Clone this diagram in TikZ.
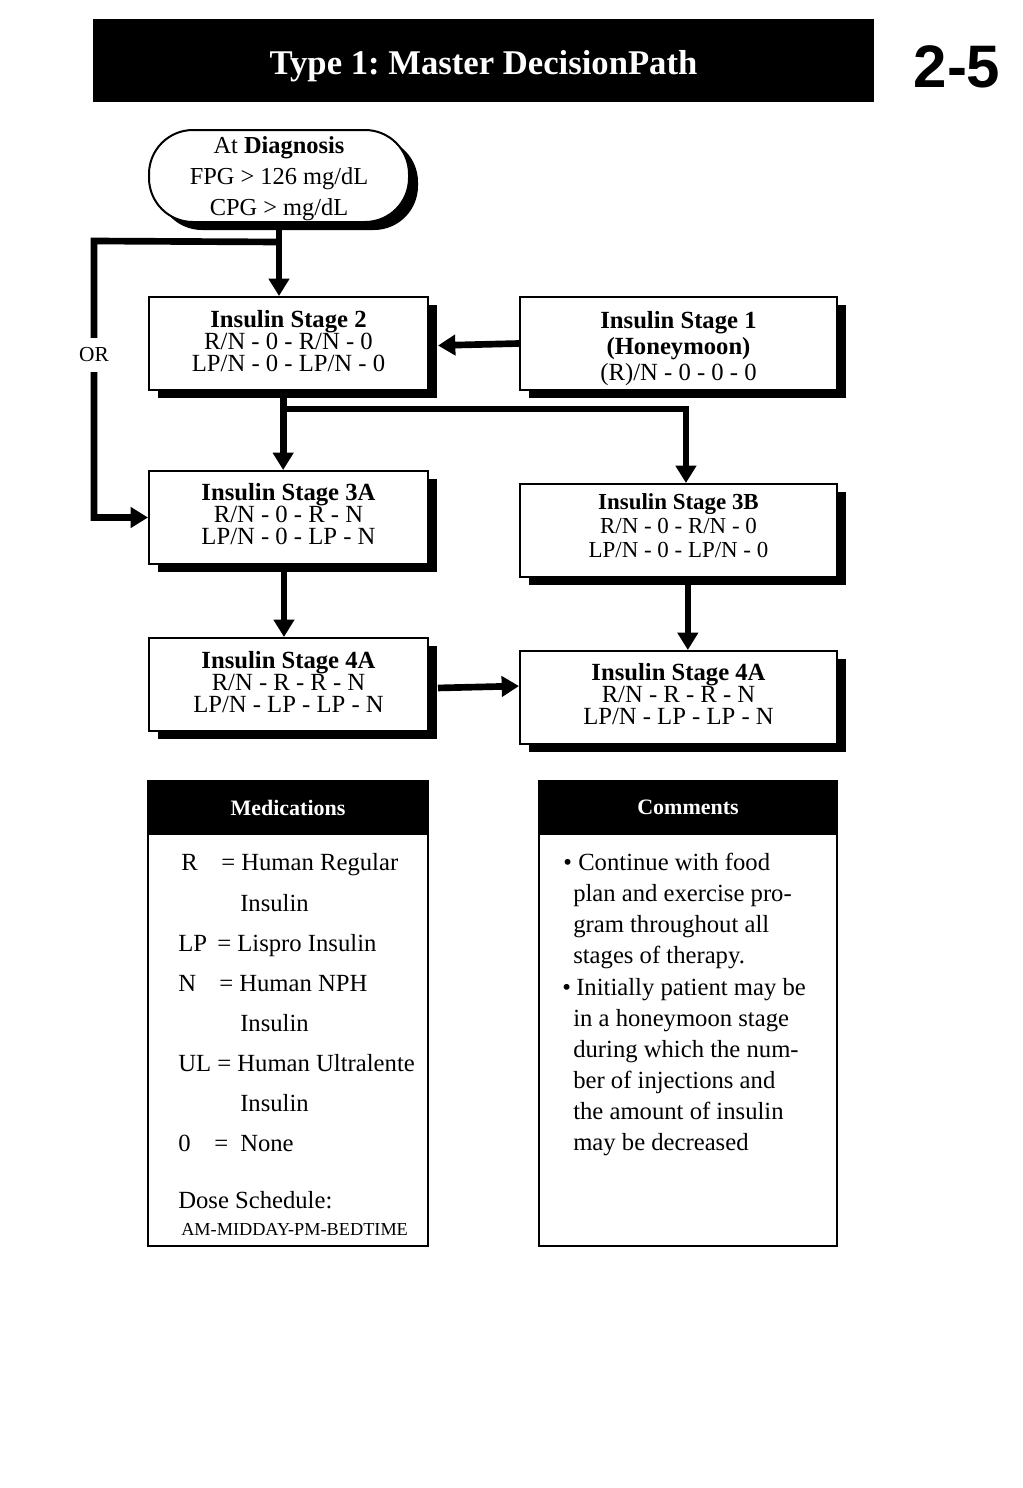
\documentclass[tikz,border=0pt]{standalone}
\usepackage{fontspec}
\setmainfont{Liberation Serif}
\newfontfamily\numfont{Liberation Sans}
\usetikzlibrary{arrows.meta,shadows,calc}
\newcommand\stagetext[2]{\raisebox{#1}[\height][\depth]{\begin{minipage}{180pt}\centering #2\end{minipage}}}
\begin{document}
\frenchspacing
\begin{tikzpicture}[x=0.75pt,y=-0.75pt,
  conn/.style={line width=5pt,-{Triangle[width=15pt,length=13pt]}},
  shad/.style={drop shadow={shadow xshift=6.75pt,shadow yshift=-6pt,fill=black,opacity=1}},
  stagebox/.style={draw,line width=1.5pt,fill=white,minimum height=69.75pt,inner sep=0pt,shad,
    font=\fontsize{18.5}{16.5}\selectfont},
  narrowbox/.style={stagebox,minimum width=209.25pt},
  widebox/.style={stagebox,minimum width=237.75pt},
  panel/.style={draw,line width=1.5pt,fill=white,inner sep=0pt},
  panelhead/.style={draw,line width=1.5pt,fill=black,text=white,inner sep=0pt,minimum height=39.75pt,
    font=\bfseries\fontsize{16.5}{16.5}\selectfont},
  txt/.style={inner sep=0pt,anchor=base west,font=\fontsize{18.5}{18.5}\selectfont}
]
\fill[white] (0,0) rectangle (1023,1488);
\useasboundingbox (0,0) rectangle (1023,1488);

% title
\node[fill=black,minimum width=585.75pt,minimum height=62.25pt,text=white,inner sep=0pt,
  font=\bfseries\fontsize{26}{26}\selectfont] (title) at (483.5,60.5) {\raisebox{-4.5pt}[\height][\depth]{Type 1: Master DecisionPath}};
\node[inner sep=0pt,font=\numfont\bfseries\fontsize{45}{45}\selectfont] (num) at (957,67) {2-5};

% diagnosis
\node[draw,line width=1.5pt,fill=white,shad,rounded corners=33pt,minimum width=195pt,minimum height=69pt,
  inner sep=0pt,font=\fontsize{18.3}{23.25}\selectfont] (diag) at (279,176)
  {\stagetext{-2.25pt}{At \textbf{Diagnosis}\\FPG > 126 mg/dL\\CPG > mg/dL}};

% stage boxes
\node[narrowbox] (s2) at (288.5,343.5) {\stagetext{1.5pt}{\textbf{Insulin Stage 2}\\R/N - 0 - R/N - 0\\LP/N - 0 - LP/N - 0}};
\node[widebox,font=\fontsize{18.5}{19.5}\selectfont] (s1) at (678.5,343.5) {\stagetext{-3.75pt}{\textbf{Insulin Stage 1}\\\textbf{(Honeymoon)}\\(R)/N - 0 - 0 - 0}};
\node[narrowbox] (s3a) at (288.5,517.5) {\stagetext{2.25pt}{\textbf{Insulin Stage 3A}\\R/N - 0 - R - N\\LP/N - 0 - LP - N}};
\node[widebox,font=\fontsize{17.2}{18}\selectfont] (s3b) at (678.5,530.5) {\stagetext{3.75pt}{\textbf{Insulin Stage 3B}\\R/N - 0 - R/N - 0\\LP/N - 0 - LP/N - 0}};
\node[narrowbox] (s4a) at (288.5,684.5) {\stagetext{1.5pt}{\textbf{Insulin Stage 4A}\\R/N - R - R - N\\LP/N - LP - LP - N}};
\node[widebox] (s4b) at (678.5,697.5) {\stagetext{2.25pt}{\textbf{Insulin Stage 4A}\\R/N - R - R - N\\LP/N - LP - LP - N}};

% connectors
\coordinate (orTop) at (94,241);
\coordinate (split) at (283,409);
\draw[conn] (diag.south) -- (diag.south |- s2.north);
\draw[conn] ($(diag.south)+(0,19)$) -- (orTop) -- (orTop |- s3a.west) -- (s3a.west);
\node[fill=white,inner sep=0pt,minimum height=25pt,minimum width=24pt,font=\fontsize{16}{16}\selectfont] (or) at (94,355) {OR};
\draw[conn] (s1.west) -- ([xshift=6.75pt,yshift=-1.5pt]s2.east);
\draw[conn] ([xshift=-4pt]s2.south) -- ([xshift=-4pt]s3a.north);
\draw[conn] (split) -| ([xshift=5.6pt]s3b.north);
\draw[conn] ([xshift=-3.4pt]s3a.south) -- ([xshift=-3.4pt]s4a.north);
\draw[conn] ([xshift=7pt]s3b.south) -- ([xshift=7pt]s4b.north);
\draw[conn] ([xshift=6.75pt,yshift=-2.6pt]s4a.east) -- ([yshift=8.6pt]s4b.west);

% medications panel
\node[panel,minimum width=210pt,minimum height=348.75pt] (medb) at (288,1013.5) {};
\node[panelhead,minimum width=210pt] (medh) at (288,807.5) {Medications};
\foreach \i/\xx/\yy/\t in {1/181/870/R, 2/221/870/= Human Regular, 3/240/911/Insulin,
  4/178/951/LP, 5/217/951/= Lispro Insulin, 6/178/991/N, 7/219/991/= Human NPH,
  8/240/1031/Insulin, 9/178/1071/UL = Human Ultralente, 10/240/1111/Insulin,
  11/178/1151/0, 12/214/1151/=, 13/240/1151/None, 14/178/1208/Dose Schedule:}
  \node[txt] (m\i) at (\xx,\yy) {\t};
\node[txt,font=\fontsize{13.7}{13.7}\selectfont] (m15) at (181,1235) {AM-MIDDAY-PM-BEDTIME};

% comments panel
\node[panel,minimum width=223.5pt,minimum height=348.75pt] (comb) at (688,1013.5) {};
\node[panelhead,minimum width=223.5pt] (comh) at (688,807.5) {Comments};
\node[txt] (b1) at (563,870) {\textbullet};
\node[txt] (b2) at (562,995) {\textbullet};
\foreach \i/\xx/\yy/\t in {1/578/870/Continue with food, 2/573/901/plan and exercise pro-,
  3/573/932/gram throughout all, 4/573/963/stages of therapy.,
  5/576/995/Initially patient may be, 6/573/1026/in a honeymoon stage,
  7/573/1057/during which the num-, 8/573/1088/ber of injections and,
  9/573/1119/the amount of insulin, 10/573/1150/may be decreased}
  \node[txt] (c\i) at (\xx,\yy) {\t};
\end{tikzpicture}
\end{document}
